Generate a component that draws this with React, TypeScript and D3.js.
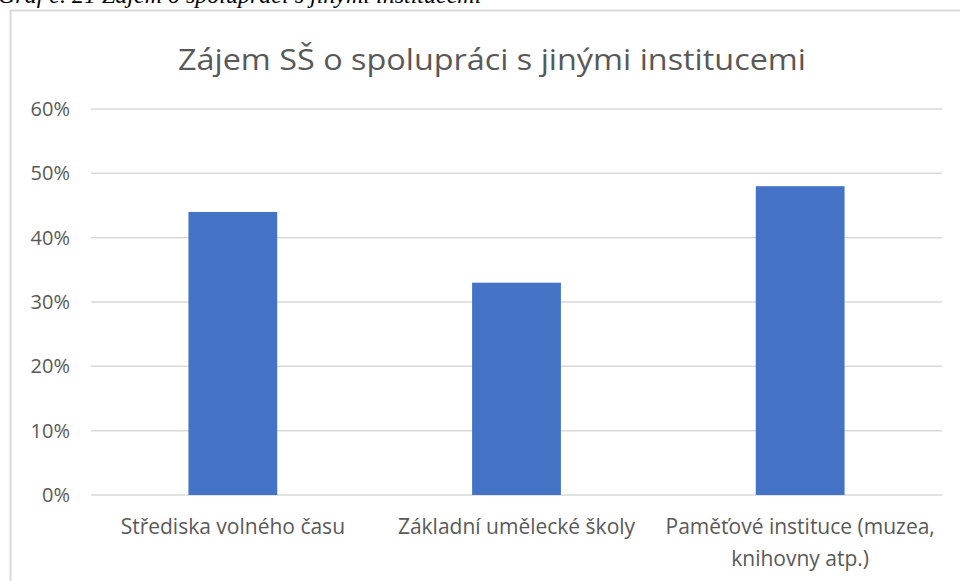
import React from "react";
import * as d3 from "d3";

const categories = ["Střediska volného času", "Základní umělecké školy", "Paměťové instituce (muzea, knihovny atp.)"];
const categoryLines = [["Střediska volného času"], ["Základní umělecké školy"], ["Paměťové instituce (muzea,", "knihovny atp.)"]];
const values = [0.44, 0.33, 0.48];
const yTicks = [0, 0.1, 0.2, 0.3, 0.4, 0.5, 0.6];
const title = "Zájem SŠ o spolupráci s jinými institucemi";
const caption = "Graf č. 21 Zájem o spolupráci s jinými institucemi";

const W = 960, H = 581;
const plot = { left: 91, right: 942, top: 109, bottom: 495 };
const font = "'Open Sans', 'Noto Sans', sans-serif";
const textColor = "#595959";

export default function App() {
  const x = d3.scaleBand<string>().domain(categories).range([plot.left, plot.right]).padding(0);
  const y = d3.scaleLinear().domain([0, 0.6]).range([plot.bottom, plot.top]);
  const barW = x.bandwidth() * 0.313;
  const fmt = d3.format(".0%");
  return (
    <svg width={W} height={H} style={{ position: "absolute", left: 0, top: 0, background: "#fff" }}>
      <rect x={0} y={0} width={W} height={H} fill="#fff" />
      <text x={-2} y={3} fontFamily="'Liberation Serif', 'Times New Roman', serif" fontStyle="italic" fontSize={24} fill="#000">{caption}</text>
      <line x1={10.5} x2={10.5} y1={10} y2={H} stroke="#d9d9d9" strokeWidth={2} />
      <line x1={10} x2={W} y1={10.5} y2={10.5} stroke="#d9d9d9" strokeWidth={2} />
      <text x={492} y={70} textAnchor="middle" fontFamily={font} fontSize={30} textLength={628} lengthAdjust="spacingAndGlyphs" fill={textColor}>{title}</text>
      {yTicks.map((t) => (
        <g key={t}>
          <line x1={plot.left} x2={plot.right} y1={y(t)} y2={y(t)} stroke="#d9d9d9" strokeWidth={1.5} />
          <text x={70} y={y(t) + 7} textAnchor="end" fontFamily={font} fontSize={20} fill={textColor}>{fmt(t)}</text>
        </g>
      ))}
      {categories.map((c, i) => (
        <rect key={c} x={(x(c) as number) + (x.bandwidth() - barW) / 2} y={y(values[i])} width={barW} height={y(0) - y(values[i])} fill="#4472c4" />
      ))}
      {categories.map((c, i) => (
        <text key={c} textAnchor="middle" fontFamily={font} fontSize={21} fill={textColor}>
          {categoryLines[i].map((l, j) => (
            <tspan key={j} x={(x(c) as number) + x.bandwidth() / 2} y={534 + j * 32}>{l}</tspan>
          ))}
        </text>
      ))}
    </svg>
  );
}
